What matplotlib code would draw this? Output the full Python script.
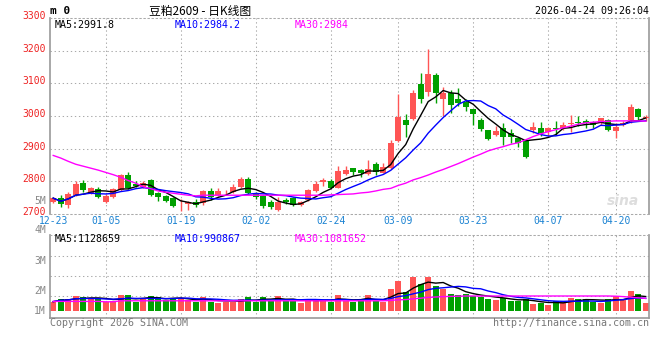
import matplotlib
matplotlib.use('Agg')
import matplotlib.pyplot as plt
import numpy as np
import pandas as pd

plt.rcParams['font.family'] = ['DejaVu Sans Mono', 'Noto Sans CJK SC']

# 日期刻度
dates = ['12-23', '01-05', '01-19', '02-02', '02-24', '03-09', '03-23', '04-07', '04-20']
date_idx = [0, 7, 17, 27, 37, 46, 56, 66, 75]

# 日K数据 (开 高 低 收)
opens = [2737, 2748, 2727, 2758, 2795, 2763, 2776, 2737, 2750, 2773,
         2818, 2792, 2783, 2804, 2763, 2756, 2748, 2726, 2729, 2735,
         2732, 2770, 2758, 2766, 2768, 2783, 2807, 2765, 2756, 2735,
         2711, 2742, 2748, 2727, 2742, 2770, 2797, 2801, 2780, 2822,
         2840, 2834, 2822, 2853, 2826, 2840, 2924, 2988, 2991, 3098,
         3074, 3126, 3052, 3071, 3052, 3042, 3021, 2988, 2957, 2942,
         2962, 2949, 2933, 2923, 2957, 2962, 2952, 2963, 2962, 2976,
         2982, 2985, 2981, 2978, 2988, 2955, 2973, 2988, 3021, 2993]
highs = [2752, 2758, 2767, 2800, 2803, 2782, 2781, 2760, 2780, 2822,
         2829, 2800, 2800, 2808, 2766, 2759, 2750, 2745, 2738, 2745,
         2773, 2778, 2778, 2772, 2790, 2812, 2812, 2767, 2758, 2742,
         2752, 2748, 2750, 2738, 2775, 2800, 2810, 2808, 2848, 2848,
         2842, 2837, 2865, 2860, 2855, 2925, 3067, 3006, 3080, 3131,
         3204, 3132, 3088, 3080, 3085, 3052, 3021, 2995, 2957, 2969,
         2978, 2959, 2937, 2923, 2983, 2981, 2965, 2985, 2982, 3003,
         3000, 2990, 2985, 2995, 2991, 2978, 2985, 3037, 3025, 3003]
lows = [2733, 2722, 2718, 2755, 2767, 2760, 2748, 2733, 2747, 2770,
        2777, 2781, 2780, 2755, 2740, 2737, 2720, 2710, 2711, 2720,
        2728, 2742, 2755, 2762, 2765, 2780, 2760, 2745, 2718, 2715,
        2710, 2730, 2725, 2725, 2740, 2768, 2785, 2778, 2778, 2820,
        2818, 2812, 2820, 2818, 2824, 2838, 2920, 2937, 2988, 3039,
        3060, 3041, 3000, 3010, 3030, 3015, 2972, 2954, 2925, 2940,
        2911, 2916, 2904, 2870, 2949, 2939, 2939, 2942, 2957, 2952,
        2969, 2962, 2962, 2972, 2954, 2933, 2969, 2978, 2988, 2985]
closes = [2748, 2729, 2760, 2791, 2773, 2778, 2752, 2756, 2776, 2818,
          2780, 2786, 2794, 2758, 2750, 2740, 2723, 2728, 2735, 2727,
          2770, 2750, 2770, 2768, 2783, 2806, 2765, 2750, 2723, 2722,
          2735, 2735, 2727, 2735, 2773, 2790, 2804, 2780, 2831, 2834,
          2829, 2826, 2837, 2829, 2845, 2918, 2998, 2972, 3070, 3052,
          3129, 3070, 3070, 3034, 3041, 3029, 3006, 2959, 2929, 2954,
          2937, 2937, 2918, 2875, 2967, 2949, 2962, 2961, 2972, 2978,
          2980, 2978, 2972, 2995, 2957, 2967, 2979, 3029, 2996, 2998]
# MA30 (含区间之前的数据, 从图上读)
ma30 = [2879, 2871, 2861, 2852, 2846, 2840, 2834, 2827, 2820, 2812,
        2802, 2794, 2783, 2777, 2770, 2766, 2763, 2760, 2757, 2755,
        2757, 2757, 2757, 2757, 2757, 2757, 2757, 2757, 2757, 2757,
        2757, 2757, 2757, 2757, 2757, 2757, 2757, 2758, 2759, 2760,
        2761, 2764, 2766, 2770, 2775, 2778, 2787, 2794, 2804, 2811,
        2819, 2828, 2836, 2845, 2854, 2864, 2874, 2883, 2893, 2900,
        2906, 2913, 2918, 2927, 2937, 2945, 2952, 2958, 2964, 2969,
        2975, 2979, 2981, 2983, 2984, 2985, 2985, 2985, 2985, 2984]

# 成交量 (百万手)
volume = [0.92, 1.05, 1.05, 1.22, 1.15, 1.05, 1.05, 0.92, 0.95, 1.25,
          1.25, 0.92, 1.03, 1.20, 1.15, 1.00, 1.05, 1.10, 1.00, 0.92,
          1.15, 0.92, 0.87, 0.92, 0.92, 1.05, 1.15, 0.92, 1.15, 0.95,
          1.22, 0.95, 0.95, 0.87, 1.05, 1.05, 1.00, 0.92, 1.25, 0.95,
          0.92, 1.05, 1.25, 0.95, 0.92, 1.55, 1.95, 1.38, 2.17, 1.80,
          2.17, 1.70, 1.53, 1.30, 1.25, 1.30, 1.22, 1.17, 1.05, 1.00,
          1.10, 0.95, 0.95, 1.05, 0.80, 0.83, 0.75, 0.95, 0.95, 1.10,
          1.05, 1.05, 0.92, 0.87, 1.05, 1.20, 1.05, 1.45, 1.30, 0.87]
vol_ma30 = [0.93, 0.93, 0.93, 0.93, 0.93, 0.93, 0.93, 0.91, 0.91, 0.96,
            0.96, 0.96, 0.96, 0.96, 0.96, 0.96, 0.96, 0.96, 0.96, 0.96,
            0.96, 0.96, 0.96, 0.96, 0.96, 0.96, 0.96, 0.96, 0.96, 0.96,
            0.96, 0.96, 0.96, 0.96, 0.96, 0.96, 0.96, 0.96, 0.96, 0.96,
            0.96, 0.96, 0.96, 0.96, 0.96, 0.98, 1.01, 1.02, 1.06, 1.09,
            1.13, 1.15, 1.17, 1.18, 1.19, 1.20, 1.20, 1.20, 1.20, 1.20,
            1.20, 1.20, 1.20, 1.20, 1.20, 1.20, 1.20, 1.20, 1.20, 1.20,
            1.20, 1.20, 1.20, 1.20, 1.20, 1.19, 1.17, 1.14, 1.11, 1.08]

price_ticks = [3300, 3200, 3100, 3000, 2900, 2800, 2700]
vol_ticks = ['5M', '4M', '3M', '2M', '1M']

RED = '#ff5555'
GREEN = '#00a000'
GRID = '#aaaaaa'
W, H = 660, 360


def box(l, t, r, b):
    return [l / W, 1 - b / H, (r - l) / W, (b - t) / H]


def fpos(x, y):
    return x / W, 1 - y / H


fig = plt.figure(figsize=(6.6, 3.6), dpi=100, facecolor='white')
ax = fig.add_axes(box(50, 18.2, 649, 213.8))
axv = fig.add_axes(box(50, 234.5, 649, 318.3))

n = len(closes)
x = np.arange(n)
o = np.array(opens); c = np.array(closes)
up = c >= o
col = np.where(up, RED, GREEN)
xl = (-0.43, 79.44)

# 均线
s = pd.Series(closes)
ma5 = s.rolling(5, min_periods=1).mean()
ma10 = s.rolling(10, min_periods=1).mean()

# --- K线 ---
for a in (ax, axv):
    a.set_xlim(*xl)
    a.set_xticks([])
    a.set_yticks([])
    for i in date_idx[1:]:
        a.axvline(i, color=GRID, lw=0.75, ls=(0, (1.3, 2.6)), zorder=0)

for p in price_ticks[1:-1]:
    ax.axhline(p, color=GRID, lw=0.75, ls=(0, (1.3, 2.6)), zorder=0)

ax.vlines(x, lows, highs, colors=col, lw=1.0, zorder=2)
body = np.maximum(np.abs(c - o), 1.6)
ax.bar(x, body, bottom=np.minimum(o, c), width=0.8, color=col, lw=0, zorder=3)
ax.plot(x, ma5, color='black', lw=1.0, zorder=4)
ax.plot(x, ma10, color='#0000ff', lw=1.0, zorder=4)
ax.plot(x, ma30, color='#ff00ff', lw=1.0, zorder=4)
ax.set_ylim(2700, 3300)

# --- 成交量 ---
vfloor = 0.45
v = pd.Series(volume)
axv.bar(x, v - vfloor, bottom=vfloor, width=0.8, color=col, lw=0, zorder=2)
axv.plot(x, v.rolling(5, min_periods=1).mean(), color='black', lw=1.0, zorder=4)
axv.plot(x, v.rolling(10, min_periods=1).mean(), color='#0000ff', lw=1.0, zorder=4)
axv.plot(x, vol_ma30, color='#ff00ff', lw=1.0, zorder=4)
axv.set_ylim(0.085, 4.275)
for g in (1.2, 2.2, 3.2):
    axv.axhline(g, color=GRID, lw=0.75, ls=(0, (1.3, 2.6)), zorder=0)

for a in (ax, axv):
    for sp in ('left', 'right', 'bottom'):
        a.spines[sp].set_color('#999999')
        a.spines[sp].set_linewidth(1.2)
    a.spines['top'].set_color(GRID)
    a.spines['top'].set_linewidth(0.75)
    a.spines['top'].set_linestyle((0, (1.3, 2.6)))
ax.spines['bottom'].set_linestyle((0, (1.3, 2.6)))
ax.spines['bottom'].set_linewidth(0.75)
ax.spines['bottom'].set_color(GRID)

# 价格刻度
for p in price_ticks:
    ax.annotate(str(p), xy=(0, p), xycoords=('axes fraction', 'data'),
                xytext=(-3, 1.5), textcoords='offset points',
                ha='right', va='center', color='#ee2222', fontsize=7)
# 成交量刻度
for t, yy in zip(vol_ticks, [200.5, 230.5, 260.5, 290.5, 310.5]):
    fig.text(*fpos(46, yy), t, ha='right', va='center', color='#888888', fontsize=7)

# 日期
for d, i in zip(dates, date_idx):
    ax.annotate(d, xy=(i, 0), xycoords=('data', 'axes fraction'),
                xytext=(0, -5.5), textcoords='offset points',
                ha='center', va='center', color='#1a82d2', fontsize=7,
                annotation_clip=False)

# 标题
fig.text(*fpos(50, 11.5), 'm 0', ha='left', va='center', fontsize=8, fontweight='bold')
fig.text(*fpos(200, 11), '豆粕2609 - 日K线图', ha='center', va='center', fontsize=8.5,
         family=['Noto Sans CJK SC', 'DejaVu Sans'])
fig.text(*fpos(649, 11.5), '2026-04-24 09:26:04', ha='right', va='center', fontsize=7.2)

fig.text(*fpos(55, 24.5), 'MA5:2991.8', ha='left', va='center', fontsize=7.2, color='black')
fig.text(*fpos(175, 24.5), 'MA10:2984.2', ha='left', va='center', fontsize=7.2, color='#0000ff')
fig.text(*fpos(295, 24.5), 'MA30:2984', ha='left', va='center', fontsize=7.2, color='#ff00ff')

fig.text(*fpos(55, 238.5), 'MA5:1128659', ha='left', va='center', fontsize=7.2, color='black')
fig.text(*fpos(175, 238.5), 'MA10:990867', ha='left', va='center', fontsize=7.2, color='#0000ff')
fig.text(*fpos(295, 238.5), 'MA30:1081652', ha='left', va='center', fontsize=7.2, color='#ff00ff')

fig.text(*fpos(623, 201), 'sina', ha='center', va='center', fontsize=10, color='#dddddd',
         fontweight='bold', style='italic', family='DejaVu Sans')

fig.text(*fpos(50, 323.5), 'Copyright 2026 SINA.COM', ha='left', va='center', fontsize=7.2, color='#777777')
fig.text(*fpos(649, 323.5), 'http://finance.sina.com.cn', ha='right', va='center', fontsize=7.2, color='#777777')

fig.savefig('out.png', dpi=100, facecolor='white')
